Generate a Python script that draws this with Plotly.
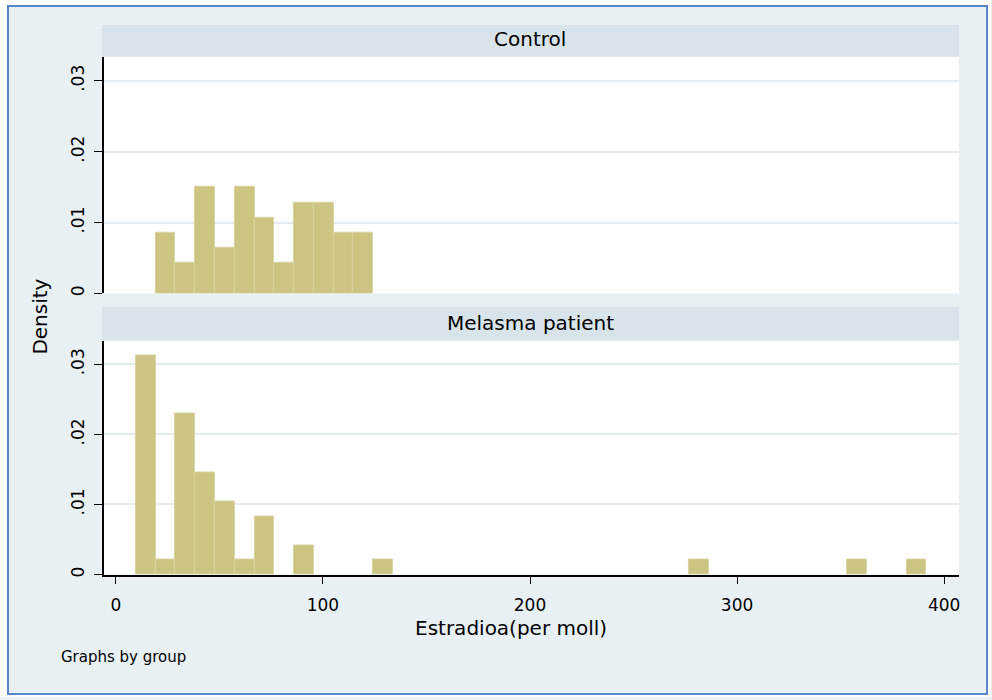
import plotly.graph_objects as go

# Shared histogram bins (Stata-style common bins across groups)
bin_start = 9.65
bin_width = 9.544

# Control group: occupied bin indices and densities
control_bins = [1, 2, 3, 4, 5, 6, 7, 8, 9, 10, 11]
control_density = [0.0086, 0.0043, 0.0150, 0.0064, 0.0150, 0.0107,
                   0.0043, 0.0128, 0.0128, 0.0086, 0.0086]

# Melasma patient group: occupied bin indices and densities
patient_bins = [0, 1, 2, 3, 4, 5, 6, 8, 12, 28, 36, 39]
patient_density = [0.0312, 0.0021, 0.0230, 0.0146, 0.0104, 0.0021,
                   0.0083, 0.0042, 0.0021, 0.0021, 0.0021, 0.0021]

group_names = ["Control", "Melasma patient"]
x_tickvals = [0, 100, 200, 300, 400]
x_ticktext = ["0", "100", "200", "300", "400"]
y_tickvals = [0, 0.01, 0.02, 0.03]
y_ticktext = ["0", ".01", ".02", ".03"]

W, H = 992, 700
FONT = "DejaVu Sans"
BG = "rgb(232,240,243)"
STRIP = "rgb(216,228,234)"
GRID = "rgb(228,236,240)"
BAR = "rgb(203,196,130)"
BAR_EDGE = "rgb(216,211,160)"


def px_x(p):
    return p / W


def px_y(p):
    return 1 - p / H


def centers(bins):
    return [bin_start + (b + 0.5) * bin_width for b in bins]


fig = go.Figure()
fig.add_trace(go.Bar(x=centers(control_bins), y=control_density,
                     width=[bin_width] * len(control_bins),
                     marker=dict(color=BAR, line=dict(color=BAR_EDGE, width=1)),
                     xaxis="x", yaxis="y", showlegend=False, hoverinfo="x+y"))
fig.add_trace(go.Bar(x=centers(patient_bins), y=patient_density,
                     width=[bin_width] * len(patient_bins),
                     marker=dict(color=BAR, line=dict(color=BAR_EDGE, width=1)),
                     xaxis="x2", yaxis="y2", showlegend=False, hoverinfo="x+y"))

x_left, x_right = 104, 960
top_y0, top_y1 = 57, 294.7
bot_y0, bot_y1 = 342, 577
x_range = [-5.79, 407.2]
y_range = [0, 0.0334]

yaxis_common = dict(
    range=y_range, tickvals=y_tickvals, ticktext=y_ticktext,
    tickangle=-90, ticks="outside", ticklen=8, tickwidth=1.3, tickcolor="black",
    showline=True, linecolor="black", linewidth=1.5,
    showgrid=True, gridcolor=GRID, gridwidth=2, zeroline=False,
    tickfont=dict(family=FONT, size=17, color="black"),
    ticklabelstandoff=3, fixedrange=True,
)

fig.update_layout(
    width=W, height=H,
    margin=dict(l=0, r=0, t=0, b=0),
    paper_bgcolor=BG, plot_bgcolor="white",
    bargap=0,
    xaxis=dict(domain=[px_x(x_left), px_x(x_right)], range=x_range,
               anchor="y", showline=False, showgrid=False, zeroline=False,
               showticklabels=False, ticks="", fixedrange=True),
    yaxis=dict(domain=[px_y(top_y1), px_y(top_y0)], anchor="x", **yaxis_common),
    xaxis2=dict(domain=[px_x(x_left), px_x(x_right)], range=x_range,
                anchor="y2", tickvals=x_tickvals, ticktext=x_ticktext,
                ticks="outside", ticklen=8, tickwidth=1.3, tickcolor="black",
                showline=True, linecolor="black", linewidth=1.5,
                showgrid=False, zeroline=False, ticklabelstandoff=6,
                tickfont=dict(family=FONT, size=17, color="black"),
                fixedrange=True),
    yaxis2=dict(domain=[px_y(bot_y1), px_y(bot_y0)], anchor="x2", **yaxis_common),
)

shapes = []
# panel strips
for (y0, y1) in [(25, 57), (308, 342)]:
    shapes.append(dict(type="rect", xref="paper", yref="paper",
                       x0=px_x(102), x1=px_x(960), y0=px_y(y1), y1=px_y(y0),
                       fillcolor=STRIP, line=dict(width=0), layer="below"))
# white margin outside the framed graph region
for (x0, x1, y0, y1) in [(0, 8, 0, H), (988, W, 0, H), (0, W, 0, 6), (0, W, 697, H)]:
    shapes.append(dict(type="rect", xref="paper", yref="paper",
                       x0=px_x(x0), x1=px_x(x1), y0=px_y(y1), y1=px_y(y0),
                       fillcolor="white", line=dict(width=0)))
# blue frame
shapes.append(dict(type="rect", xref="paper", yref="paper",
                   x0=px_x(8), x1=px_x(988), y0=px_y(697), y1=px_y(6),
                   fillcolor="rgba(0,0,0,0)",
                   line=dict(color="rgb(86,134,200)", width=2)))
fig.update_layout(shapes=shapes)

annotations = [
    dict(text=group_names[0], x=px_x(531), y=px_y(39), xref="paper", yref="paper",
         showarrow=False, xanchor="center", yanchor="middle",
         font=dict(family=FONT, size=20, color="black")),
    dict(text=group_names[1], x=px_x(531), y=px_y(324), xref="paper", yref="paper",
         showarrow=False, xanchor="center", yanchor="middle",
         font=dict(family=FONT, size=20, color="black")),
    dict(text="Estradioa(per moll)", x=px_x(512), y=px_y(631), xref="paper", yref="paper",
         showarrow=False, xanchor="center", yanchor="middle",
         font=dict(family=FONT, size=20, color="black")),
    dict(text="Density", x=px_x(40), y=px_y(318), xref="paper", yref="paper",
         showarrow=False, xanchor="center", yanchor="middle", textangle=-90,
         font=dict(family=FONT, size=20, color="black")),
    dict(text="Graphs by group", x=px_x(59), y=px_y(660), xref="paper", yref="paper",
         showarrow=False, xanchor="left", yanchor="middle",
         font=dict(family=FONT, size=15, color="black")),
]
fig.update_layout(annotations=annotations)

fig.write_html("out.html")
